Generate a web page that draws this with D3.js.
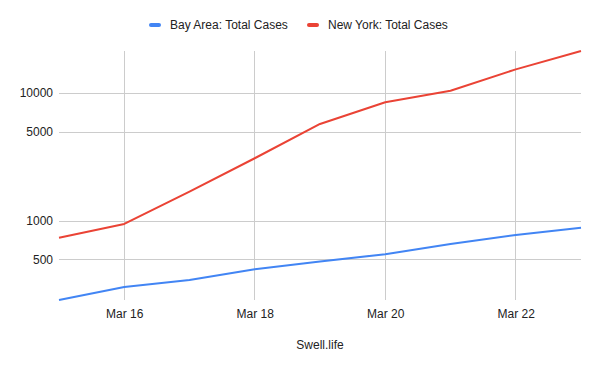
<!DOCTYPE html>
<html>
<head>
<meta charset="utf-8">
<script src="https://cdn.jsdelivr.net/npm/d3@7"></script>
<style>
  body { margin: 0; background: #fff; }
  svg { font-family: "Liberation Sans", Arial, sans-serif; display: block; }
</style>
</head>
<body>
<svg id="chart"></svg>
<script>
const days = ['2020-03-15', '2020-03-16', '2020-03-17', '2020-03-18', '2020-03-19',
  '2020-03-20', '2020-03-21', '2020-03-22', '2020-03-23'];
const bayArea = [241, 305, 346, 420, 481, 550, 661, 777, 886];
const newYork = [740, 948, 1693, 3090, 5730, 8460, 10420, 15300, 21300];
const yTicks = [500, 1000, 5000, 10000];
const seriesNames = ['Bay Area: Total Cases', 'New York: Total Cases'];
const colors = ['#4285f4', '#ea4335'];

const width = 600;
const height = 371;
const margin = { top: 51, right: 19, bottom: 71, left: 59 };
const innerWidth = width - margin.left - margin.right;
const innerHeight = height - margin.top - margin.bottom;

const parseDate = d3.utcParse('%Y-%m-%d');
const dates = days.map(parseDate);
const series = [bayArea, newYork].map((vals, i) => ({
  name: seriesNames[i],
  color: colors[i],
  values: vals.map((v, j) => ({ date: dates[j], value: v }))
}));

const xScale = d3.scaleUtc().domain(d3.extent(dates)).range([0, innerWidth]);
const allValues = bayArea.concat(newYork);
const yScale = d3.scaleLog().domain(d3.extent(allValues)).range([innerHeight, 0]);

const svg = d3.select('#chart')
  .attr('width', width)
  .attr('height', height);

const g = svg.append('g')
  .attr('transform', `translate(${margin.left}, ${margin.top})`);

// grid lines
const xTickDates = dates.filter((d, i) => i % 2 === 1);
g.append('g')
  .selectAll('line')
  .data(xTickDates)
  .enter().append('line')
    .attr('x1', d => Math.floor(xScale(d)) + 0.5)
    .attr('x2', d => Math.floor(xScale(d)) + 0.5)
    .attr('y1', 0)
    .attr('y2', innerHeight)
    .attr('stroke', '#cccccc');

g.append('g')
  .selectAll('line')
  .data(yTicks)
  .enter().append('line')
    .attr('x1', 0)
    .attr('x2', innerWidth)
    .attr('y1', d => Math.round(yScale(d)) + 0.5)
    .attr('y2', d => Math.round(yScale(d)) + 0.5)
    .attr('stroke', '#cccccc');

// axes (labels only)
const xAxis = g.append('g')
  .attr('transform', `translate(0, ${innerHeight})`)
  .call(d3.axisBottom(xScale)
    .tickValues(xTickDates)
    .tickSize(0)
    .tickPadding(9)
    .tickFormat(d3.utcFormat('Mar %-d')));

const yAxis = g.append('g')
  .call(d3.axisLeft(yScale)
    .tickValues(yTicks)
    .tickSize(0)
    .tickPadding(6)
    .tickFormat(d3.format('d')));

[xAxis, yAxis].forEach(a => {
  a.select('.domain').remove();
  a.selectAll('text')
    .attr('fill', '#222222')
    .style('font-size', '12px')
    .style('font-family', '"Liberation Sans", Arial, sans-serif');
});

// lines
const line = d3.line()
  .x(d => xScale(d.date))
  .y(d => yScale(d.value));

g.selectAll('.series')
  .data(series)
  .enter().append('path')
    .attr('class', 'series')
    .attr('fill', 'none')
    .attr('stroke', d => d.color)
    .attr('stroke-width', 2)
    .attr('stroke-linejoin', 'round')
    .attr('d', d => line(d.values));

// x axis title
svg.append('text')
  .attr('x', margin.left + innerWidth / 2)
  .attr('y', 349)
  .attr('text-anchor', 'middle')
  .attr('fill', '#222222')
  .style('font-size', '12px')
  .text('Swell.life');

// legend
const legendX = [149, 307];
const legend = svg.append('g')
  .selectAll('g')
  .data(series)
  .enter().append('g')
    .attr('transform', (d, i) => `translate(${legendX[i]}, 25)`);

legend.append('rect')
  .attr('x', 0)
  .attr('y', -2)
  .attr('width', 12)
  .attr('height', 4)
  .attr('rx', 2)
  .attr('fill', d => d.color);

legend.append('text')
  .attr('x', 21)
  .attr('y', 4)
  .attr('fill', '#222222')
  .style('font-size', '12px')
  .text(d => d.name);
</script>
</body>
</html>
